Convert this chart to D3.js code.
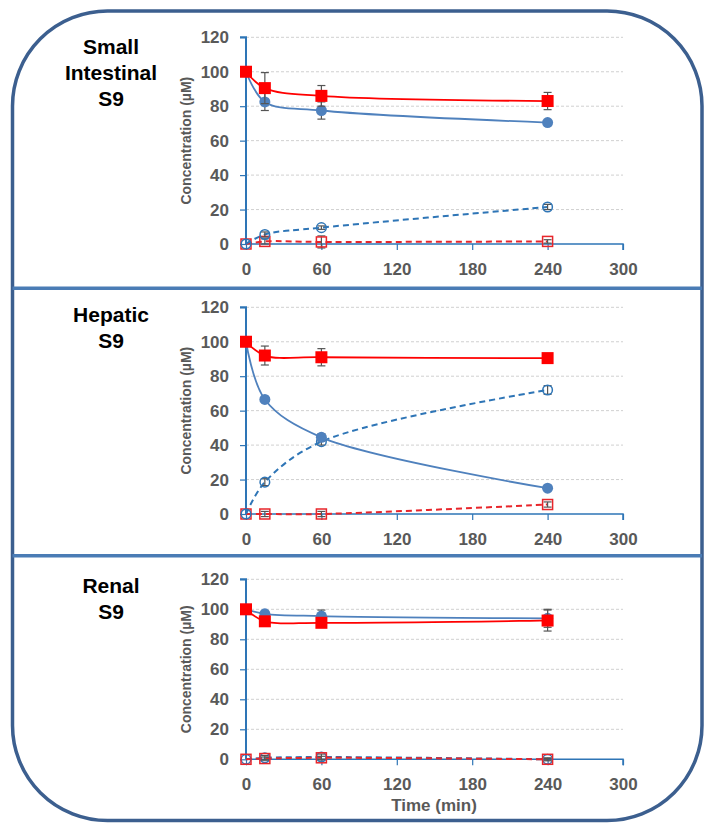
<!DOCTYPE html>
<html><head><meta charset="utf-8">
<script src="https://cdn.jsdelivr.net/npm/d3@7"></script>
<style>
html,body{margin:0;padding:0;background:#fff;}
svg{display:block;font-family:"Liberation Sans",Arial,sans-serif;}
</style></head>
<body>
<svg id="chart" width="714" height="832"></svg>
<script>
// ---- data ----
const times = [0, 15, 60, 240];
const xTicks = [0, 60, 120, 180, 240, 300];
const yTicks = [0, 20, 40, 60, 80, 100, 120];
const panelTitles = [["Small", "Intestinal", "S9"], ["Hepatic", "S9"], ["Renal", "S9"]];
const yLabel = "Concentration (\u00b5M)";
const xLabel = "Time (min)";

// Small intestinal S9
const siBlueFilled = [100, 82.5, 77.5, 70.5];
const siBlueFilledErr = [0, 5, 5, 1];
const siRedFilled = [100, 90.5, 86, 83];
const siRedFilledErr = [0, 9, 6, 5];
const siBlueOpen = [0, 5.5, 9.5, 21.5];
const siBlueOpenErr = [0, 1.5, 1, 1.5];
const siRedOpen = [0, 1.5, 1.2, 1.5];
const siRedOpenErr = [0, 1.5, 3.5, 1];

// Hepatic S9
const hpBlueFilled = [100, 66.5, 44.5, 15];
const hpBlueFilledErr = [0, 1, 2, 1];
const hpRedFilled = [100, 92, 91, 90.5];
const hpRedFilledErr = [0, 5.5, 5, 1];
const hpBlueOpen = [0, 18.5, 42, 72];
const hpBlueOpenErr = [0, 2, 2, 2.5];
const hpRedOpen = [0, 0, 0, 5.5];
const hpRedOpenErr = [0, 1.5, 1.5, 1.5];

// Renal S9
const rnBlueFilled = [100, 97, 95.5, 94];
const rnBlueFilledErr = [0, 1, 4, 6];
const rnRedFilled = [100, 92, 91, 92.5];
const rnRedFilledErr = [0, 1, 3, 7];
const rnBlueOpen = [0, 1, 1.5, 0];
const rnBlueOpenErr = [0, 1.5, 2, 0.5];
const rnRedOpen = [0, 0.5, 1, 0];
const rnRedOpenErr = [0, 1, 1, 1];

const panelData = [
  {blueOpen: siBlueOpen, blueOpenErr: siBlueOpenErr, redOpen: siRedOpen, redOpenErr: siRedOpenErr,
   blueFilled: siBlueFilled, blueFilledErr: siBlueFilledErr, redFilled: siRedFilled, redFilledErr: siRedFilledErr},
  {blueOpen: hpBlueOpen, blueOpenErr: hpBlueOpenErr, redOpen: hpRedOpen, redOpenErr: hpRedOpenErr,
   blueFilled: hpBlueFilled, blueFilledErr: hpBlueFilledErr, redFilled: hpRedFilled, redFilledErr: hpRedFilledErr},
  {blueOpen: rnBlueOpen, blueOpenErr: rnBlueOpenErr, redOpen: rnRedOpen, redOpenErr: rnRedOpenErr,
   blueFilled: rnBlueFilled, blueFilledErr: rnBlueFilledErr, redFilled: rnRedFilled, redFilledErr: rnRedFilledErr}
];

// ---- layout ----
const panels = [
  {top: 37.3, bottom: 244, titleY: 54},
  {top: 307.3, bottom: 514, titleY: 322},
  {top: 579.3, bottom: 759.3, titleY: 593}
];
const xLeft = 246, xRight = 623;
const RED = "#ff0000", BLUE = "#4f81bd", BLUE_D = "#2e75b6", AXIS = "#2e75b6", GRAY = "#595959";

const svg = d3.select("#chart");

// frame
svg.append("rect").attr("x", 12.5).attr("y", 11).attr("width", 689.5).attr("height", 809.5)
  .attr("rx", 95).attr("ry", 95).attr("fill", "none").attr("stroke", "#3c5f8f").attr("stroke-width", 3.5);
[288.3, 555.7].forEach(y => {
  svg.append("line").attr("x1", 12.5).attr("x2", 702).attr("y1", y).attr("y2", y)
    .attr("stroke", "#4a7cb5").attr("stroke-width", 3.5);
});

const x = d3.scaleLinear().domain([0, 300]).range([xLeft, xRight]);

panels.forEach((p, i) => {
  const y = d3.scaleLinear().domain([0, 120]).range([p.bottom, p.top]);
  const g = svg.append("g");
  const d = panelData[i];

  // title
  const t = g.append("text").attr("x", 111).attr("y", p.titleY).attr("text-anchor", "middle")
    .attr("font-size", 21).attr("font-weight", "bold").attr("fill", "#000");
  panelTitles[i].forEach((s, k) => {
    t.append("tspan").attr("x", 111).attr("dy", k === 0 ? 0 : 26).text(s);
  });

  // gridlines
  g.append("g").selectAll("line").data(yTicks.filter(v => v > 0)).join("line")
    .attr("x1", xLeft).attr("x2", xRight).attr("y1", v => y(v)).attr("y2", v => y(v))
    .attr("stroke", "#d0d0d0").attr("stroke-width", 1).attr("stroke-dasharray", "3,2");

  // y axis
  const ya = g.append("g").attr("transform", `translate(${xLeft},0)`)
    .call(d3.axisLeft(y).tickValues(yTicks).tickSize(6).tickPadding(11));
  ya.select(".domain").attr("stroke", AXIS).attr("stroke-width", 2).attr("d", `M-6,${p.top}H0V${p.bottom}`);
  ya.selectAll(".tick line").attr("stroke", AXIS).attr("stroke-width", 1.2);
  ya.selectAll(".tick text").attr("font-size", 17).attr("font-weight", "bold").attr("fill", GRAY)
    .attr("font-family", "Liberation Sans, Arial, sans-serif");

  // x axis
  const xa = g.append("g").attr("transform", `translate(0,${p.bottom})`)
    .call(d3.axisBottom(x).tickValues(xTicks).tickSize(6).tickPadding(9));
  xa.select(".domain").attr("stroke", AXIS).attr("stroke-width", 1.5).attr("d", `M${xLeft},0H${xRight}V6`);
  xa.selectAll(".tick line").attr("stroke", AXIS).attr("stroke-width", 1.2);
  xa.selectAll(".tick text").attr("font-size", 17).attr("font-weight", "bold").attr("fill", GRAY)
    .attr("font-family", "Liberation Sans, Arial, sans-serif").attr("dy", "0.95em");

  // y label
  g.append("text").attr("transform", `translate(191,${(p.top + p.bottom) / 2}) rotate(-90)`)
    .attr("text-anchor", "middle").attr("font-size", 14).attr("font-weight", "bold").attr("fill", GRAY)
    .text(yLabel);

  const line = d3.line().x((v, j) => x(times[j])).y(v => y(v)).curve(d3.curveCatmullRom.alpha(0.5));

  const series = [
    {vals: d.redOpen, err: d.redOpenErr, color: "#e8262b", dash: "6,4", width: 2, marker: "sqOpen"},
    {vals: d.blueOpen, err: d.blueOpenErr, color: BLUE_D, dash: "6,4", width: 2, marker: "cirOpen"},
    {vals: d.blueFilled, err: d.blueFilledErr, color: BLUE, dash: null, width: 1.8, marker: "cir"},
    {vals: d.redFilled, err: d.redFilledErr, color: RED, dash: null, width: 1.8, marker: "sq"}
  ];
  if (i === 2) { const tmp = series[2]; series[2] = series[3]; series[3] = tmp; series.reverse(); }

  // lines
  series.forEach(s => {
    g.append("path").datum(s.vals).attr("d", line).attr("fill", "none")
      .attr("stroke", s.color).attr("stroke-width", s.width)
      .attr("stroke-dasharray", s.dash);
  });
  // error bars + markers
  series.forEach(s => {
    const eg = g.append("g");
    s.vals.forEach((v, j) => {
      const e = s.err[j];
      if (e > 0) {
        const cx = x(times[j]);
        eg.append("line").attr("x1", cx).attr("x2", cx).attr("y1", y(v - e)).attr("y2", y(v + e))
          .attr("stroke", "#555").attr("stroke-width", 1.2);
        [v - e, v + e].forEach(w => {
          eg.append("line").attr("x1", cx - 4).attr("x2", cx + 4).attr("y1", y(w)).attr("y2", y(w))
            .attr("stroke", "#555").attr("stroke-width", 1.2);
        });
      }
    });
    s.vals.forEach((v, j) => {
      const cx = x(times[j]), cy = y(v);
      if (s.marker === "sq") {
        eg.append("rect").attr("x", cx - 6).attr("y", cy - 6).attr("width", 12).attr("height", 12).attr("fill", RED);
      } else if (s.marker === "cir") {
        eg.append("circle").attr("cx", cx).attr("cy", cy).attr("r", 5.5).attr("fill", BLUE);
      } else if (s.marker === "sqOpen") {
        eg.append("rect").attr("x", cx - 5).attr("y", cy - 5).attr("width", 10).attr("height", 10)
          .attr("fill", "none").attr("stroke", "#e8262b").attr("stroke-width", 1.5);
      } else {
        eg.append("circle").attr("cx", cx).attr("cy", cy).attr("r", 4.8)
          .attr("fill", "none").attr("stroke", BLUE_D).attr("stroke-width", 1.5);
      }
    });
  });
});

// x label
svg.append("text").attr("x", 434).attr("y", 811).attr("text-anchor", "middle")
  .attr("font-size", 17).attr("font-weight", "bold").attr("fill", GRAY).text(xLabel);
</script>
</body></html>
